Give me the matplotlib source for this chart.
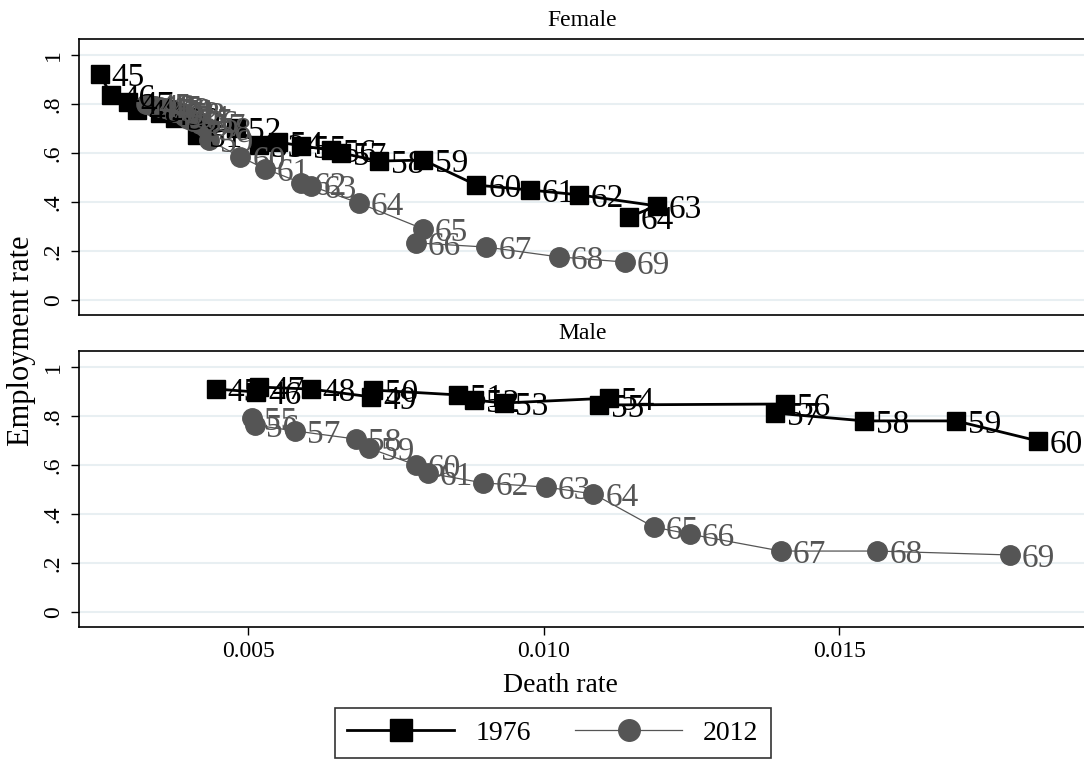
#!/usr/bin/env python3
"""Employment rate vs death rate by age, 1976 and 2012."""

import matplotlib
matplotlib.use("Agg")
import matplotlib.pyplot as plt
from matplotlib.lines import Line2D

plt.rcParams["font.family"] = ["Liberation Serif", "DejaVu Serif"]

# Female, 1976
f76_age = [45, 46, 47, 48, 49, 50, 51, 52, 53, 54, 55, 56, 57, 58, 59, 60, 61, 62, 63, 64]
f76_death = [0.00249, 0.00268, 0.00297, 0.00312, 0.00351, 0.00377, 0.00414, 0.00479, 0.00518,
             0.00550, 0.00589, 0.00640, 0.00657, 0.00721, 0.00796, 0.00886, 0.00976, 0.01060,
             0.01191, 0.01144]
f76_emp = [0.922, 0.837, 0.808, 0.776, 0.763, 0.743, 0.673, 0.702, 0.633, 0.645, 0.629, 0.612,
           0.600, 0.567, 0.571, 0.469, 0.449, 0.429, 0.384, 0.339]

# Female, 2012
f12_age = [45, 46, 47, 48, 49, 50, 51, 52, 53, 54, 55, 56, 57, 58, 59, 60, 61, 62, 63, 64,
           65, 66, 67, 68, 69]
f12_death = [0.00328, 0.00334, 0.00343, 0.00351, 0.00360, 0.00365, 0.00370, 0.00377, 0.00385,
             0.00392, 0.00399, 0.00407, 0.00419, 0.00429, 0.00433, 0.00487, 0.00529, 0.00590,
             0.00607, 0.00687, 0.00796, 0.00784, 0.00903, 0.01025, 0.01137]
f12_emp = [0.800, 0.796, 0.792, 0.788, 0.784, 0.780, 0.776, 0.767, 0.763, 0.751, 0.739, 0.731,
           0.718, 0.702, 0.653, 0.584, 0.535, 0.478, 0.465, 0.396, 0.290, 0.233, 0.216, 0.176,
           0.155]

# Male, 1976
m76_age = [45, 46, 47, 48, 49, 50, 51, 52, 53, 54, 55, 56, 57, 58, 59, 60]
m76_death = [0.00445, 0.00514, 0.00519, 0.00606, 0.00708, 0.00711, 0.00855, 0.00882, 0.00932,
             0.01111, 0.01093, 0.01408, 0.01391, 0.01542, 0.01697, 0.01836]
m76_emp = [0.910, 0.898, 0.918, 0.910, 0.878, 0.906, 0.886, 0.865, 0.853, 0.873, 0.845, 0.849,
           0.812, 0.780, 0.780, 0.698]

# Male, 2012
m12_age = [55, 56, 57, 58, 59, 60, 61, 62, 63, 64, 65, 66, 67, 68, 69]
m12_death = [0.00507, 0.00511, 0.00580, 0.00682, 0.00704, 0.00784, 0.00804, 0.00898, 0.01004,
             0.01084, 0.01186, 0.01247, 0.01401, 0.01564, 0.01788]
m12_emp = [0.792, 0.763, 0.739, 0.706, 0.669, 0.600, 0.567, 0.527, 0.510, 0.482, 0.347, 0.318,
           0.249, 0.249, 0.233]

YTICKS = [0, 0.2, 0.4, 0.6, 0.8, 1]
YTICKLABELS = ["0", ".2", ".4", ".6", ".8", "1"]
XTICKS = [0.005, 0.010, 0.015]
XTICKLABELS = ["0.005", "0.010", "0.015"]

C76 = "black"
C12 = "#555555"
LABEL_SIZE = 24
TICK_SIZE = 17


def draw_series(ax, x, y, ages, color, marker, lw, ms):
    ax.plot(x, y, color=color, lw=lw, marker=marker, ms=ms, zorder=3)
    for xi, yi, a in zip(x, y, ages):
        ax.annotate(str(a), (xi, yi), xytext=(8.5, -2.5), textcoords="offset points",
                    ha="left", va="center", fontsize=LABEL_SIZE, color=color, zorder=4)


def style_axis(ax, title):
    ax.set_xlim(0.00214, 0.01917)
    ax.set_ylim(-0.061, 1.065)
    ax.set_yticks(YTICKS)
    ax.set_yticklabels(YTICKLABELS, rotation=90, va="center", fontsize=TICK_SIZE)
    ax.set_xticks(XTICKS)
    ax.grid(axis="y", color="#e8eff2", lw=1.5, zorder=0)
    ax.set_axisbelow(True)
    ax.tick_params(axis="both", direction="out", length=6, width=1, pad=5)
    for s in ax.spines.values():
        s.set_linewidth(1.2)
    ax.set_title(title, fontsize=17, pad=9)


def main():
    fig = plt.figure(figsize=(10.84, 7.63), dpi=100)
    ax_f = fig.add_axes([0.0729, 0.5872, 0.929, 0.3617])
    ax_m = fig.add_axes([0.0729, 0.1782, 0.929, 0.3617])

    draw_series(ax_f, f76_death, f76_emp, f76_age, C76, "s", 2.0, 13)
    draw_series(ax_f, f12_death, f12_emp, f12_age, C12, "o", 0.9, 14)
    draw_series(ax_m, m76_death, m76_emp, m76_age, C76, "s", 2.0, 13)
    draw_series(ax_m, m12_death, m12_emp, m12_age, C12, "o", 0.9, 14)

    style_axis(ax_f, "Female")
    style_axis(ax_m, "Male")
    ax_f.set_xticklabels([])
    ax_f.tick_params(axis="x", length=0)
    ax_m.set_xticklabels(XTICKLABELS, fontsize=TICK_SIZE)
    ax_m.tick_params(axis="x", pad=4)

    fig.text(0.5166, 0.101, "Death rate", ha="center", va="center", fontsize=20)
    fig.text(0.0195, 0.553, "Employment rate", rotation=90, ha="center", va="center",
             fontsize=22)

    handles = [
        Line2D([], [], color=C76, lw=2.0, marker="s", ms=15.5),
        Line2D([], [], color=C12, lw=0.9, marker="o", ms=15.5),
    ]
    leg = fig.legend(handles, ["1976", "2012"], loc="upper center",
                     bbox_to_anchor=(0.51, 1 - 708 / 763), ncol=2, fontsize=20,
                     frameon=True, fancybox=False, edgecolor="black",
                     handlelength=3.85, columnspacing=1.6, handletextpad=0.75,
                     borderpad=0.45, borderaxespad=0)
    leg.get_frame().set_linewidth(1.2)

    fig.savefig("out.png", dpi=100, facecolor="white")


if __name__ == "__main__":
    main()
